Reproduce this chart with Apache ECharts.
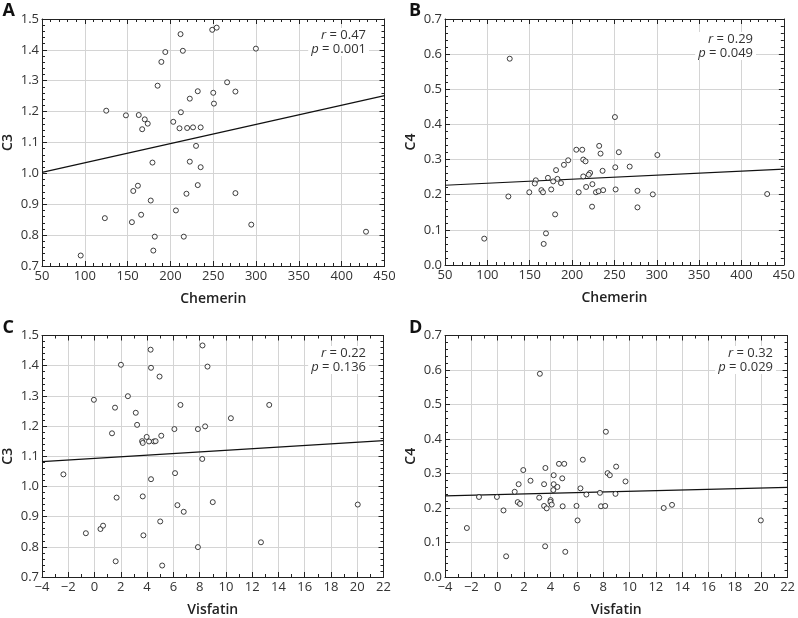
<!DOCTYPE html>
<html>
<head>
<meta charset="utf-8">
<script src="https://cdn.jsdelivr.net/npm/echarts@6/dist/echarts.min.js"></script>
<style>
  html, body { margin: 0; padding: 0; background: #fff; }
  #chart { width: 798px; height: 618px; }
</style>
</head>
<body>
<div id="chart"></div>
<script>
// Panel A: C3 vs chemerin
var chemerinA = [125, 148, 163, 170, 173.5, 167, 185, 189.4, 194, 211.8, 214.5, 248.8, 254, 299.8,
  266.2, 275.9, 231.9, 250, 250.8, 222.6, 212.2, 203.3, 210.6, 219.5, 226.4, 235.3, 229.9,
  179, 222.6, 235.3, 231.9, 162, 156.6, 218.7, 275.9, 177, 206.4, 165.8, 123.4, 155, 294.4,
  181.7, 215.6, 428.4, 180, 95.2];
var c3A = [1.203, 1.188, 1.189, 1.175, 1.161, 1.143, 1.284, 1.361, 1.393, 1.451, 1.397, 1.465, 1.472, 1.404,
  1.295, 1.265, 1.266, 1.261, 1.226, 1.242, 1.198, 1.167, 1.146, 1.147, 1.149, 1.149, 1.089,
  1.035, 1.038, 1.02, 0.962, 0.96, 0.943, 0.934, 0.936, 0.912, 0.88, 0.866, 0.855, 0.842, 0.834,
  0.795, 0.795, 0.811, 0.75, 0.734];
var fitA = [[50, 1.003], [450, 1.252]];

// Panel B: C4 vs chemerin
var chemerinB = [126.4, 250.6, 232, 205, 212, 233.6, 255.2, 300.7,
  195.4, 190.4, 213.2, 215.9, 268, 251, 236, 181.1, 221.3, 219.7, 213.2, 171.5, 182.7, 177.7,
  157.2, 156, 186.9, 224, 149.5, 163.8, 165.7, 175.4, 207.8, 216.6, 228.2, 231.3, 236.7, 251.4,
  277.2, 295.3, 430.3, 124.8, 180, 223.6, 277.2, 169.2, 166.5, 96.3];
var c4B = [0.587, 0.421, 0.339, 0.328, 0.328, 0.317, 0.321, 0.313,
  0.298, 0.285, 0.3, 0.295, 0.28, 0.278, 0.268, 0.27, 0.262, 0.257, 0.252, 0.248, 0.245, 0.238,
  0.241, 0.232, 0.233, 0.23, 0.207, 0.213, 0.207, 0.215, 0.207, 0.222, 0.207, 0.21, 0.213, 0.215,
  0.211, 0.201, 0.202, 0.195, 0.144, 0.166, 0.164, 0.09, 0.06, 0.075];
var fitB = [[50, 0.227], [450, 0.273]];

// Panel C: C3 vs visfatin
var visfatinC = [-0.05, 1.33, 1.56, 2.01, 2.54, 3.14, 3.24, 3.62, 3.67, 3.97, 4.15, 4.52, 4.65,
  4.27, 4.3, 4.95, 5.08, 6.08, 6.54, 7.87, 8.22, 8.42, 8.6, 8.2, 10.38, 13.3,
  -2.37, 6.13, 4.3, 1.68, 3.67, 6.31, 6.79, 9.0, 20.04, 5.0, -0.66, 0.45, 0.65, 3.72, 7.87,
  12.67, 1.61, 5.15];
var c3C = [1.287, 1.176, 1.261, 1.403, 1.299, 1.244, 1.204, 1.15, 1.144, 1.164, 1.149, 1.149, 1.15,
  1.453, 1.393, 1.364, 1.168, 1.19, 1.27, 1.19, 1.467, 1.199, 1.397, 1.091, 1.226, 1.27,
  1.04, 1.044, 1.024, 0.963, 0.967, 0.938, 0.916, 0.948, 0.94, 0.884, 0.845, 0.859, 0.87, 0.838, 0.799,
  0.815, 0.752, 0.738];
var fitC = [[-4, 1.082], [22, 1.152]];

// Panel D: C4 vs visfatin
var visfatinD = [3.2, 8.21, 6.46, 4.65, 5.05, 3.62, 8.99, 1.94, 4.25, 8.34, 8.51, 4.9, 2.49, 9.7,
  3.52, 4.25, 4.53, 4.22, 6.28, 1.59, 1.29, 7.76, 6.73, 8.94, -1.42, -0.06, 3.15, 4.02, 4.0,
  1.52, 1.69, 4.1, 3.52, 3.72, 4.93, 5.98, 7.84, 8.16, 12.6, 13.23, 0.44, 6.06, 19.97, -2.34,
  3.6, 5.13, 0.64];
var c4D = [0.589, 0.421, 0.34, 0.328, 0.328, 0.316, 0.32, 0.31, 0.295, 0.301, 0.295, 0.286, 0.279, 0.277,
  0.269, 0.269, 0.261, 0.252, 0.257, 0.269, 0.247, 0.244, 0.239, 0.241, 0.232, 0.232, 0.23, 0.223, 0.218,
  0.217, 0.212, 0.21, 0.206, 0.199, 0.205, 0.206, 0.205, 0.206, 0.2, 0.209, 0.193, 0.164, 0.164, 0.142,
  0.089, 0.073, 0.06];
var fitD = [[-4, 0.235], [22, 0.26]];

var panels = [
  { letter: "A", xs: chemerinA, ys: c3A, fit: fitA, xName: "Chemerin", yName: "C3",
    xMin: 50, xMax: 450, xInt: 50, xMinor: 5, yMin: 0.7, yMax: 1.5, r: "0.47", p: "0.001",
    grid: { left: 38.5, top: 19, width: 346, height: 247 }, note: [369, 28] },
  { letter: "B", xs: chemerinB, ys: c4B, fit: fitB, xName: "Chemerin", yName: "C4",
    xMin: 50, xMax: 450, xInt: 50, xMinor: 5, yMin: 0, yMax: 0.7, r: "0.29", p: "0.049",
    grid: { left: 445, top: 19, width: 346, height: 246 }, note: [756, 32] },
  { letter: "C", xs: visfatinC, ys: c3C, fit: fitC, xName: "Visfatin", yName: "C3",
    xMin: -4, xMax: 22, xInt: 2, xMinor: 2, yMin: 0.7, yMax: 1.5, r: "0.22", p: "0.136",
    grid: { left: 38.5, top: 335.5, width: 345, height: 246 }, note: [369, 346] },
  { letter: "D", xs: visfatinD, ys: c4D, fit: fitD, xName: "Visfatin", yName: "C4",
    xMin: -4, xMax: 22, xInt: 2, xMinor: 2, yMin: 0, yMax: 0.7, r: "0.32", p: "0.029",
    grid: { left: 445, top: 335.5, width: 346, height: 246 }, note: [776, 346] }
];

var FONT = "Open Sans";
var frameLine = { show: true, onZero: false, lineStyle: { color: "#222", width: 1 } };

var grids = [], xAxes = [], yAxes = [], series = [], graphics = [];

panels.forEach(function (pn, i) {
  grids.push(pn.grid);
  var xBase = {
    gridIndex: i, type: "value", min: pn.xMin, max: pn.xMax, interval: pn.xInt,
    axisLine: frameLine,
    axisTick: { show: true, inside: true, length: 5, lineStyle: { color: "#222" } },
    minorTick: { show: true, splitNumber: pn.xMinor, length: 3, lineStyle: { color: "#222" } },
  };
  xAxes.push(Object.assign({}, xBase, {
    position: "bottom",
    name: pn.xName, nameLocation: "middle", nameGap: 26,
    nameTextStyle: { fontFamily: FONT, fontSize: 14, fontWeight: 600, color: "#222" },
    axisLabel: {
      fontFamily: FONT, fontSize: 13, color: "#333", margin: 4,
      formatter: function (v) { return String(v).replace("-", "\u2212"); },
    },
    splitLine: { show: true, lineStyle: { color: "#d4d4d4", width: 1 } },
  }));
  xAxes.push(Object.assign({}, xBase, {
    position: "top", axisLabel: { show: false }, splitLine: { show: false },
  }));
  var yBase = {
    gridIndex: i, type: "value", min: pn.yMin, max: pn.yMax, interval: 0.1,
    axisLine: frameLine,
    axisTick: { show: true, inside: true, length: 5, lineStyle: { color: "#222" } },
    minorTick: { show: true, splitNumber: 5, length: 3, lineStyle: { color: "#222" } },
  };
  yAxes.push(Object.assign({}, yBase, {
    position: "left",
    name: pn.yName, nameLocation: "middle", nameGap: 27, nameRotate: 90,
    nameTextStyle: { fontFamily: FONT, fontSize: 14, fontWeight: 600, color: "#222" },
    axisLabel: {
      fontFamily: FONT, fontSize: 13, color: "#333", margin: 3,
      formatter: function (v) { return v.toFixed(1); },
    },
    splitLine: { show: true, lineStyle: { color: "#d4d4d4", width: 1 } },
  }));
  yAxes.push(Object.assign({}, yBase, {
    position: "right", axisLabel: { show: false }, splitLine: { show: false },
  }));

  var pts = pn.xs.map(function (x, k) { return [x, pn.ys[k]]; });
  series.push({
    type: "scatter", xAxisIndex: 2 * i, yAxisIndex: 2 * i, data: pts,
    symbol: "circle", symbolSize: 5,
    itemStyle: { color: "#fff", borderColor: "#111", borderWidth: 1 },
    silent: true, z: 3,
  });
  series.push({
    type: "line", xAxisIndex: 2 * i, yAxisIndex: 2 * i, data: pn.fit,
    symbol: "none", lineStyle: { color: "#111", width: 1.2 }, silent: true, z: 2,
  });

  graphics.push({
    type: "text", left: pn.grid.left - 36, top: pn.grid.top - 17,
    style: { text: pn.letter, font: "bold 18px " + FONT, fill: "#111" },
  });
  graphics.push({
    type: "text", x: pn.note[0], y: pn.note[1], z: 10,
    style: {
      text: "{i|r} = " + pn.r + "\n{i|p} = " + pn.p,
      align: "right", verticalAlign: "top",
      font: "13px " + FONT, fill: "#333", lineHeight: 14,
      backgroundColor: "#fff", padding: [0, 3, 0, 3],
      rich: { i: { fontStyle: "italic", fontFamily: FONT, fontSize: 13, fill: "#333" } },
    },
  });
});

var myChart = echarts.init(document.getElementById("chart"));
var option = {
  animation: false,
  backgroundColor: "#fff",
  grid: grids,
  xAxis: xAxes,
  yAxis: yAxes,
  series: series,
  graphic: graphics,
};
myChart.setOption(option);
</script>
</body>
</html>
